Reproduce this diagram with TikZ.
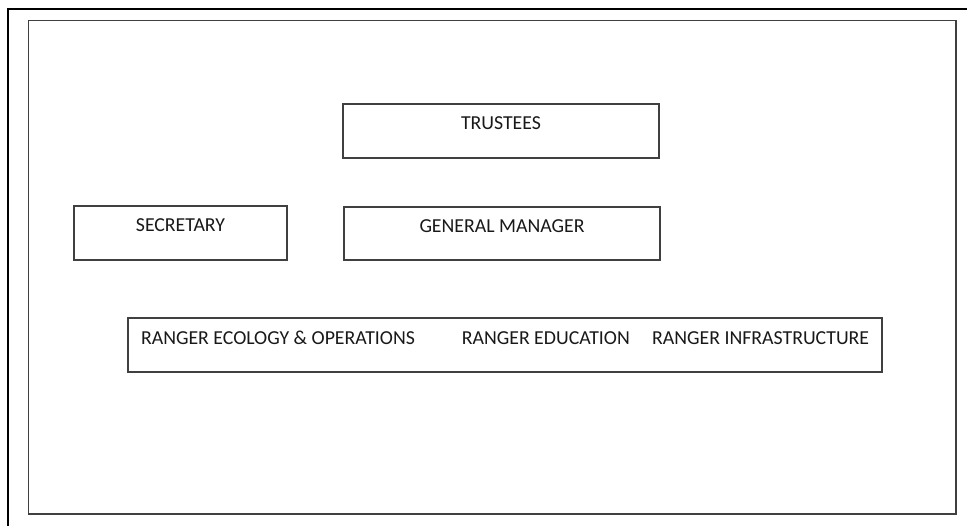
\documentclass[tikz,border=0pt]{standalone}
\usepackage{fontspec}
\setmainfont{Carlito}
\usetikzlibrary{positioning}

\begin{document}
\begin{tikzpicture}[x=1pt, y=-1pt]

  % Colours for frame and box outlines
  \definecolor{framegray}{RGB}{64,64,64}

  \tikzset{
    orgbox/.style={draw=framegray, line width=1.3pt, rectangle, inner sep=0pt},
    orglabel/.style={inner sep=0pt, text=black!90, font=\fontsize{19.8}{23}\selectfont}
  }

  % Box sizes
  \def\boxheight{54pt}
  \def\topdrop{26.5pt} % from top edge of a box down to the baseline of its text

  % Page and frames
  \clip (0,0) rectangle (967,526);
  \fill[white] (0,0) rectangle (967,526);
  \draw[line width=2pt, black] (8,9) rectangle (990,550);
  \draw[draw=framegray, line width=1.3pt] (28.5,20.5) rectangle (956,514);

  % Top level
  \node[orgbox, minimum width=316pt, minimum height=\boxheight] (trustees) at (501,131) {};
  \node[orglabel, anchor=base] (trusteestext) at ([yshift=-\topdrop]trustees.north) {TRUSTEES};

  % Second row
  \node[orgbox, minimum width=213pt, minimum height=\boxheight] (secretary) at (180.5,233) {};
  \node[orglabel, anchor=base] (secretarytext) at ([yshift=-\topdrop]secretary.north) {SECRETARY};

  \node[orgbox, minimum width=316pt, minimum height=53pt] (manager) at (502,233.5) {};
  \node[orglabel, anchor=base] (managertext) at ([yshift=-\topdrop]manager.north) {GENERAL MANAGER};

  % Rangers
  \node[orgbox, minimum width=754pt, minimum height=\boxheight] (rangers) at (505,345) {};
  \node[orglabel, anchor=base west] (ecology) at ([xshift=13.5pt, yshift=-27pt]rangers.north west) {RANGER ECOLOGY \& OPERATIONS};
  \node[orglabel, base right=46.5pt of ecology] (education) {RANGER EDUCATION};
  \node[orglabel, base right=22pt of education] (infrastructure) {RANGER INFRASTRUCTURE};

\end{tikzpicture}
\end{document}
